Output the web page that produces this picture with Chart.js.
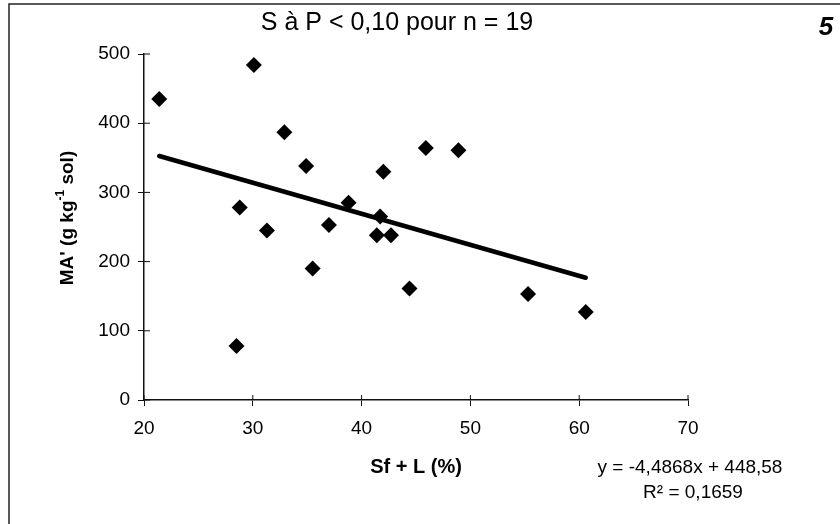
<!DOCTYPE html>
<html>
<head>
<meta charset="utf-8">
<title>MA' vs Sf + L</title>
<script src="https://cdn.jsdelivr.net/npm/chart.js@4/dist/chart.umd.min.js"></script>
<style>
  body { margin: 0; background: #fff; }
  canvas { display: block; }
</style>
</head>
<body>
<canvas id="maChart" width="840" height="524"></canvas>
<script>
'use strict';

// Sf + L (%) and MA' (g kg-1 sol), n = 19
var sfL = [21.4, 30.1, 32.9, 34.9, 28.8, 31.3, 38.8, 37.0, 42.0, 41.7,
  41.4, 42.7, 45.9, 48.9, 35.5, 44.4, 28.5, 55.3, 60.6];
var maPrime = [435, 484, 387, 338, 278, 245, 285, 253, 330, 265,
  238, 238, 364, 361, 190, 161, 78, 153, 127];

// regression printed on the chart
var slope = -4.4868;
var intercept = 448.58;
var eqText = 'y = -4,4868x + 448,58';
var r2Text = 'R\u00B2 = 0,1659';
var titleText = 'S \u00E0 P < 0,10 pour n = 19';

var xTicks = [20, 30, 40, 50, 60, 70];
var yTicks = [0, 100, 200, 300, 400, 500];

var points = sfL.map(function (x, i) { return { x: x, y: maPrime[i] }; });
var xMin = Math.min.apply(null, sfL);
var xMax = Math.max.apply(null, sfL);
var trend = [
  { x: xMin, y: slope * xMin + intercept },
  { x: xMax, y: slope * xMax + intercept }
];

var FONT = "'Liberation Sans', Arial, sans-serif";

// frame, inner tick marks and loose texts
var extras = {
  id: 'extras',
  beforeDraw: function (chart) {
    var ctx = chart.ctx;
    ctx.save();
    ctx.fillStyle = '#fff';
    ctx.fillRect(0, 0, chart.width, chart.height);
    ctx.strokeStyle = '#222';
    ctx.lineWidth = 1.5;
    ctx.beginPath();
    ctx.moveTo(9, chart.height);
    ctx.lineTo(9, 4);
    ctx.lineTo(chart.width, 4);
    ctx.stroke();
    ctx.restore();
  },
  afterDraw: function (chart) {
    var ctx = chart.ctx;
    var xs = chart.scales.x, ys = chart.scales.y;
    ctx.save();
    ctx.strokeStyle = '#111';
    ctx.lineWidth = 1;
    ctx.beginPath();
    xTicks.forEach(function (v) {
      var px = xs.getPixelForValue(v);
      ctx.moveTo(px, ys.bottom);
      ctx.lineTo(px, ys.bottom - 5);
    });
    yTicks.forEach(function (v) {
      var py = ys.getPixelForValue(v);
      ctx.moveTo(xs.left, py);
      ctx.lineTo(xs.left + 6, py);
    });
    ctx.stroke();

    ctx.fillStyle = '#000';

    // title
    ctx.font = '25px ' + FONT;
    ctx.textAlign = 'center';
    ctx.textBaseline = 'middle';
    ctx.fillText(titleText, 397, 23);

    // y axis title with superscript
    ctx.translate(73, 218);
    ctx.rotate(-Math.PI / 2);
    ctx.textBaseline = 'alphabetic';
    var big = 'bold 19px ' + FONT, small = 'bold 12px ' + FONT;
    var p1 = "MA' (g kg", p2 = '-1', p3 = ' sol)';
    ctx.font = big;
    var w1 = ctx.measureText(p1).width, w3 = ctx.measureText(p3).width;
    ctx.font = small;
    var w2 = ctx.measureText(p2).width;
    var x0 = -(w1 + w2 + w3) / 2;
    ctx.font = big;
    ctx.textAlign = 'left';
    ctx.fillText(p1, x0, 0);
    ctx.font = small;
    ctx.fillText(p2, x0 + w1, -9);
    ctx.font = big;
    ctx.fillText(p3, x0 + w1 + w2, 0);
    ctx.setTransform(1, 0, 0, 1, 0, 0);

    // equation
    ctx.font = '19px ' + FONT;
    ctx.textAlign = 'center';
    ctx.textBaseline = 'middle';
    ctx.fillText(eqText, 690, 468);
    ctx.fillText(r2Text, 693, 493);

    // page number
    ctx.font = 'italic bold 26px ' + FONT;
    ctx.fillText('5', 826, 28);
    ctx.restore();
  }
};

var ctx = document.getElementById('maChart').getContext('2d');
new Chart(ctx, {
  type: 'scatter',
  data: {
    datasets: [{
      label: 'MA\'',
      data: points,
      pointStyle: 'rectRot',
      pointRadius: 8,
      pointHoverRadius: 8,
      backgroundColor: '#000',
      borderColor: '#000',
      borderWidth: 0
    }, {
      label: 'tendance',
      data: trend,
      showLine: true,
      pointRadius: 0,
      borderColor: '#000',
      borderWidth: 4.5,
      borderCapStyle: 'round'
    }]
  },
  options: {
    responsive: false,
    animation: false,
    layout: { padding: { left: 0, right: 152, top: 54, bottom: 0 } },
    plugins: {
      legend: { display: false },
      tooltip: { enabled: false },
      title: { display: false }
    },
    scales: {
      x: {
        type: 'linear',
        min: 20,
        max: 70,
        afterFit: function (scale) { scale.height = 124; },
        afterBuildTicks: function (scale) {
          scale.ticks = xTicks.map(function (v) { return { value: v }; });
        },
        grid: { drawOnChartArea: false, tickLength: 6, color: '#111' },
        border: { color: '#111', width: 1.5 },
        ticks: { color: '#000', padding: 11, maxRotation: 0, font: { family: FONT, size: 19 } },
        title: {
          display: true,
          text: 'Sf + L (%)',
          color: '#000',
          font: { family: FONT, size: 20, weight: 'bold' },
          padding: { top: 0, bottom: 45 }
        }
      },
      y: {
        min: 0,
        max: 500,
        afterFit: function (scale) { scale.width = 144; },
        afterBuildTicks: function (scale) {
          scale.ticks = yTicks.map(function (v) { return { value: v }; });
        },
        grid: { drawOnChartArea: false, tickLength: 6, color: '#111' },
        border: { color: '#111', width: 1.5 },
        ticks: { color: '#000', padding: 8, font: { family: FONT, size: 19 } }
      }
    }
  },
  plugins: [extras]
});
</script>
</body>
</html>
